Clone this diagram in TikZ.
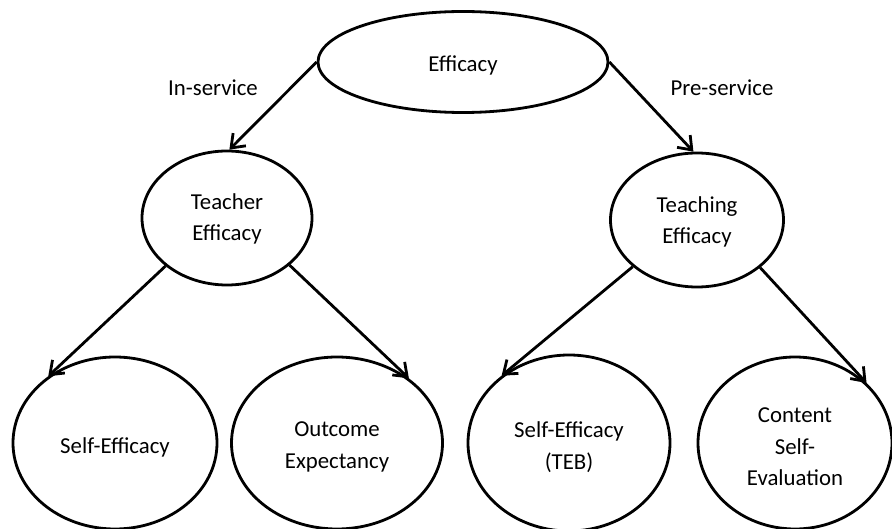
\documentclass[tikz,border=0pt]{standalone}
\usepackage{fontspec}
\setmainfont{Carlito}
\usetikzlibrary{arrows.meta,shapes.geometric}
\begin{document}
\begin{tikzpicture}[x=1pt,y=-1pt,
  oval/.style={ellipse,draw,line width=2.8pt,inner sep=0pt},
  txt/.style={align=center,font=\fontsize{22.8}{31.5}\selectfont},
  lab/.style={font=\fontsize{22.8}{31.5}\selectfont},
  arr/.style={line width=2.8pt,-{Straight Barb[length=12pt,width=18pt]}}]
\useasboundingbox (0,0) rectangle (892,529);
\node[oval,minimum width=290pt,minimum height=101pt,label={[txt,yshift=-3pt]center:Efficacy}] (eff) at (463,62) {};
\node[oval,minimum width=170pt,minimum height=134pt,label={[txt,yshift=-1pt]center:Teacher\\Efficacy}] (tea) at (227,218) {};
\node[oval,minimum width=173pt,minimum height=134pt,label={[txt,yshift=-2pt]center:Teaching\\Efficacy}] (ting) at (697,220) {};
\node[oval,minimum width=204pt,minimum height=172pt,label={[txt,yshift=-4pt]center:Self-Efficacy}] (se) at (115,443) {};
\node[oval,minimum width=211pt,minimum height=172pt,label={[txt,yshift=-4pt]center:Outcome\\Expectancy}] (oe) at (337,443) {};
\node[oval,minimum width=202pt,minimum height=176pt,label={[txt,yshift=-4pt]center:Self-Efficacy\\(TEB)}] (teb) at (569,443) {};
\node[oval,minimum width=194pt,minimum height=172pt,label={[txt,yshift=-4pt]center:Content\\Self-\\Evaluation}] (cse) at (795,443) {};
\draw[arr] (eff.180) -- (tea.88);
\draw[arr] (eff.0) -- (ting.93);
\draw[arr] (tea.218) -- (se.135);
\draw[arr] (tea.323) -- (oe.42);
\draw[arr] (ting.216) -- (teb.135);
\draw[arr] (ting.323) -- (cse.40);
\node[lab] (ins) at (213,88) {In-service};
\node[lab] (pres) at (722,88) {Pre-service};
\end{tikzpicture}
\end{document}
